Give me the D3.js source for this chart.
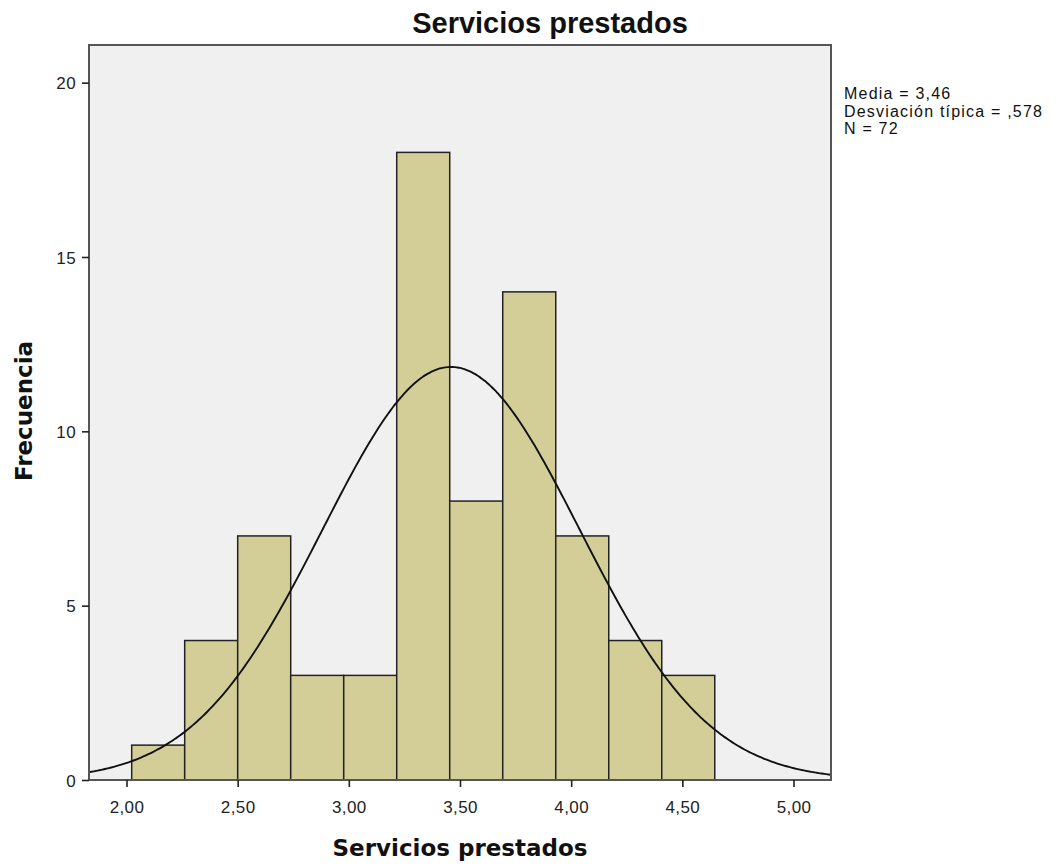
<!DOCTYPE html>
<html><head><meta charset="utf-8">
<script src="https://cdn.jsdelivr.net/npm/d3@7"></script>
<style>body{margin:0;background:#fff}</style>
</head><body>
<svg id="c" width="1056" height="867"></svg>
<script>
const binStart = 2.0234, binWidth = 0.2384;
const counts = [1, 4, 7, 3, 3, 18, 8, 14, 7, 4, 3];
const xTicks = [2, 2.5, 3, 3.5, 4, 4.5, 5];
const yTicks = [0, 5, 10, 15, 20];
const stats = { mean: 3.46, sd: 0.578, n: 72 };
const statLines = ["Media = 3,46", "Desviación típica = ,578", "N = 72"];

const svg = d3.select("#c");
const L = 89, R = 831, T = 45, B = 780;
const x = d3.scaleLinear().domain([1.8314, 5.1686]).range([L, R]);
const y = d3.scaleLinear().domain([0, 21.08]).range([B, T]);
const fmt = v => d3.format(".2f")(v).replace(".", ",");

svg.append("rect").attr("x", L).attr("y", T).attr("width", R - L).attr("height", B - T)
  .attr("fill", "#f0f0f0");

const bins = counts.map((c, i) => ({ x0: binStart + i * binWidth, x1: binStart + (i + 1) * binWidth, c }));
svg.append("g").selectAll("rect").data(bins).join("rect")
  .attr("x", d => x(d.x0)).attr("width", d => x(d.x1) - x(d.x0))
  .attr("y", d => y(d.c)).attr("height", d => y(0) - y(d.c))
  .attr("fill", "#d3ce98").attr("stroke", "#222").attr("stroke-width", 1.5);

// normal curve
const pts = d3.range(0, 301).map(i => {
  const v = 1.8314 + i * (5.1686 - 1.8314) / 300;
  const z = (v - stats.mean) / stats.sd;
  return [v, stats.n * binWidth / (stats.sd * Math.sqrt(2 * Math.PI)) * Math.exp(-0.5 * z * z)];
});
svg.append("path").datum(pts)
  .attr("d", d3.line().x(d => x(d[0])).y(d => y(d[1])).curve(d3.curveBasis))
  .attr("fill", "none").attr("stroke", "#111").attr("stroke-width", 1.9);

// frame
svg.append("rect").attr("x", L).attr("y", T).attr("width", R - L).attr("height", B - T)
  .attr("fill", "none").attr("stroke", "#555").attr("stroke-width", 2);

// axes
const xa = svg.append("g").attr("transform", `translate(0,${B})`)
  .call(d3.axisBottom(x).tickValues(xTicks).tickFormat(fmt).tickSize(7).tickSizeOuter(0));
const ya = svg.append("g").attr("transform", `translate(${L},0)`)
  .call(d3.axisLeft(y).tickValues(yTicks).tickSize(7).tickSizeOuter(0));
[xa, ya].forEach(a => {
  a.select(".domain").remove();
  a.selectAll("line").attr("stroke", "#222").attr("stroke-width", 1.6);
  a.selectAll("text").attr("font-family", "Liberation Sans, Arial, sans-serif")
    .attr("font-size", 17).attr("letter-spacing", 0.4).attr("fill", "#222");
});
xa.selectAll("text").attr("dy", null).attr("y", 33);
ya.selectAll("text").attr("x", -13).attr("dy", "0.36em");

// titles
svg.append("text").attr("x", 550).attr("y", 33).attr("text-anchor", "middle")
  .attr("font-family", "Liberation Sans, Arial, sans-serif")
  .attr("font-weight", "bold").attr("font-size", 29).attr("fill", "#111").text("Servicios prestados");
svg.append("text").attr("x", 460).attr("y", 856).attr("text-anchor", "middle")
  .attr("font-family", "DejaVu Sans, Verdana, sans-serif")
  .attr("font-weight", "bold").attr("font-size", 23).attr("fill", "#111").text("Servicios prestados");
svg.append("text").attr("transform", "translate(32,411) rotate(-90)").attr("text-anchor", "middle")
  .attr("font-family", "DejaVu Sans, Verdana, sans-serif")
  .attr("font-weight", "bold").attr("font-size", 23).attr("fill", "#111").text("Frecuencia");

svg.append("g").selectAll("text").data(statLines).join("text")
  .attr("x", 844).attr("y", (d, i) => 99 + i * 17.5)
  .attr("font-family", "Liberation Sans, Arial, sans-serif").attr("font-size", 16)
  .attr("letter-spacing", 1.2)
  .attr("fill", "#111").text(d => d);
</script>
</body></html>
